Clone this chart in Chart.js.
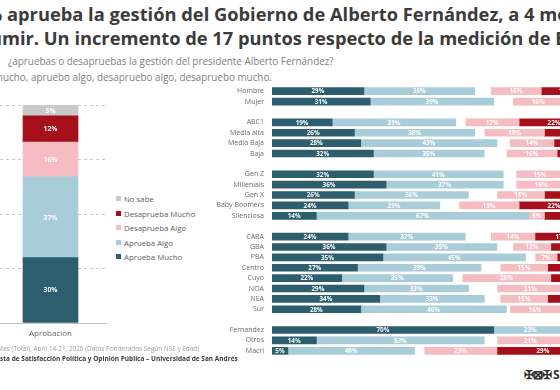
<!DOCTYPE html>
<html><head><meta charset="utf-8">
<script src="https://cdn.jsdelivr.net/npm/chart.js@4"></script>
<style>
html,body{margin:0;padding:0;width:560px;height:390px;overflow:hidden;background:#fff;font-family:"Open Sans",sans-serif;position:relative;}
.t{position:absolute;white-space:nowrap;}
.pre{position:absolute;right:100%;top:0;white-space:pre;}
.title{font-weight:700;font-size:18.3px;color:#3b3b3b;line-height:20px;}
.sub{font-size:9.9px;color:#808080;line-height:12px;}
.foot1{font-size:6.4px;color:#a0a0a0;line-height:9px;}
.foot2{font-size:6.5px;color:#3c3c3c;font-weight:700;line-height:9px;}
#legend{position:absolute;left:116px;top:193px;font-size:7.8px;color:#606060;}
#legend div{height:14.5px;line-height:12px;white-space:nowrap;}
#legend span.sw{display:inline-block;width:5px;height:5px;margin-right:3px;vertical-align:middle;position:relative;top:-1px;}
canvas{position:absolute;}
</style></head>
<body>
<div class="t title" style="left:7px;top:4px;"><span class="pre">30% </span>aprueba la gestión del Gobierno de Alberto Fernández, a 4 meses de asumir.</div>
<div class="t title" style="left:2px;top:28px;"><span class="pre">de asu</span>mir. Un incremento de 17 puntos respecto de la medición de Enero.</div>
<div class="t sub" style="left:8px;top:55px;">¿apruebas o desapruebas la gestión del presidente Alberto Fernández?</div>
<div class="t sub" style="left:3px;top:71px;"><span class="pre">Apruebo m</span>ucho, apruebo algo, desapruebo algo, desapruebo mucho.</div>

<canvas id="left" width="113" height="250" style="left:-6px;top:100px;width:113px;height:250px;"></canvas>
<div id="legend"></div>
<canvas id="right" width="370" height="270" style="left:190px;top:86px;width:370px;height:270px;"></canvas>

<div class="t foot1" style="left:1px;top:344px;"><span class="pre">Base: Participan</span>tes (Total), Abril 14-21, 2020 (Datos Ponderados Según NSE y Edad)</div>
<div class="t foot2" style="left:0px;top:354px;"><span class="pre">Encue</span>sta de Satisfacción Política y Opinión Pública – Universidad de San Andrés</div>
<div class="t" style="left:524px;top:366px;font-size:12px;font-weight:700;color:#2f2f2f;letter-spacing:-1px;">✠⊠✠ S</div>

<script>
// ---------- data ----------
const seriesNames = ['Aprueba Mucho','Aprueba Algo','No sabe','Desaprueba Algo','Desaprueba Mucho'];
const seriesColors = ['#2d5e6e','#a9cdd8','#ffffff','#f5bcc2','#a5101b'];
const leftNoSabeColor = '#c9c9c9';

const leftCategories = ['Aprobación'];
const leftApruebaMucho = [30];
const leftApruebaAlgo = [37];
const leftDesapruebaAlgo = [16];
const leftDesapruebaMucho = [12];
const leftNoSabe = [5];

const rightCategories = ['Hombre','Mujer','','ABC1','Media alta','Media Baja','Baja','','Gen Z','Millenials','Gen X','Baby Boomers','Silenciosa','','CABA','GBA','PBA','Centro','Cuyo','NOA','NEA','Sur','','Fernandez','Otros','Macri'];
const apruebaMucho    = [29,31,null,19,26,28,32,null,32,36,26,24,14,null,24,36,35,27,22,29,34,28,null,70,14,5];
const apruebaAlgo     = [35,39,null,39,38,43,35,null,41,37,36,29,67,null,37,35,45,39,35,33,33,46,null,23,53,40];
const noSabe          = [5,6,null,3,3,4,7,null,4,4,9,6,0,null,8,5,3,6,3,9,5,1,null,3,4,3];
const desapruebaAlgo  = [16,16,null,17,19,14,16,null,15,16,15,19,5,null,14,12,7,15,28,21,15,16,null,3,21,23];
const desapruebaMucho = [15,8,null,22,14,11,10,null,8,7,14,22,14,null,17,12,10,13,12,8,13,9,null,1,8,29];

const leftTicks = [0,25,50,75,100];

// ---------- label plugin ----------
const segLabels = {
  id:'segLabels',
  afterDatasetsDraw(chart, args, opts){
    const {ctx, chartArea} = chart;
    ctx.save();
    ctx.beginPath();
    ctx.rect(chartArea.left, chartArea.top, chartArea.width, chartArea.height);
    ctx.clip();
    ctx.font = 'bold ' + opts.size + 'px "Open Sans"';
    ctx.fillStyle = '#ffffff';
    ctx.textAlign = 'center';
    ctx.textBaseline = 'middle';
    chart.data.datasets.forEach((ds, di) => {
      if (ds.noLabel) return;
      const meta = chart.getDatasetMeta(di);
      meta.data.forEach((el, i) => {
        const v = ds.data[i];
        if (v == null || v < opts.min) return;
        const p = el.getProps(['x','y','base'], true);
        let cx, cy;
        if (opts.horizontal) { cx = (p.x + p.base) / 2; cy = p.y; }
        else { cx = p.x; cy = (p.y + p.base) / 2; }
        ctx.fillText(v + '%', cx, cy + 0.5);
      });
    });
    ctx.restore();
  }
};

// ---------- left chart ----------
const leftData = [leftApruebaMucho, leftApruebaAlgo, leftDesapruebaAlgo, leftDesapruebaMucho, leftNoSabe];
const leftNames = ['Aprueba Mucho','Aprueba Algo','Desaprueba Algo','Desaprueba Mucho','No sabe'];
const leftColors = [seriesColors[0], seriesColors[1], seriesColors[3], seriesColors[4], leftNoSabeColor];

new Chart(document.getElementById('left'), {
  type:'bar',
  data:{
    labels:leftCategories,
    datasets:leftData.map((d,i)=>({label:leftNames[i], data:d, backgroundColor:leftColors[i], borderWidth:0, barThickness:55}))
  },
  options:{
    responsive:false, animation:false,
    layout:{autoPadding:false, padding:{top:5,left:0,right:0,bottom:0}},
    plugins:{legend:{display:false}, tooltip:{enabled:false}, segLabels:{size:6.8, min:1, horizontal:false}},
    scales:{
      x:{stacked:true,
         grid:{display:false, drawTicks:false},
         border:{display:true, color:'#c4c4c4', width:1},
         ticks:{padding:6, color:'#666', font:{family:'Open Sans', size:8}},
         afterFit(s){ s.height = 27; s.paddingLeft = 0; s.paddingRight = 0; }},
      y:{stacked:true, min:0, max:100,
         afterBuildTicks(s){ s.ticks = leftTicks.map(v=>({value:v})); },
         grid:{display:true, color:'#c8c8c8', lineWidth:1, drawTicks:false, borderDash:[3,3]},
         border:{display:false, dash:[3,3]},
         ticks:{display:false},
         afterFit(s){ s.width = 0; s.paddingTop = 0; s.paddingBottom = 0; }}
    }
  },
  plugins:[segLabels]
});

// legend (HTML, built from series arrays)
const legendOrder = ['No sabe','Desaprueba Mucho','Desaprueba Algo','Aprueba Algo','Aprueba Mucho'];
const lg = document.getElementById('legend');
legendOrder.forEach(n=>{
  const idx = leftNames.indexOf(n);
  const row = document.createElement('div');
  row.innerHTML = '<span class="sw" style="background:'+leftColors[idx]+'"></span>'+n;
  lg.appendChild(row);
});

// ---------- right chart ----------
const rightData = [apruebaMucho, apruebaAlgo, noSabe, desapruebaAlgo, desapruebaMucho];
new Chart(document.getElementById('right'), {
  type:'bar',
  data:{
    labels:rightCategories,
    datasets:rightData.map((d,i)=>({label:seriesNames[i], data:d, backgroundColor:seriesColors[i], borderWidth:0, barThickness:7, noLabel: i===2}))
  },
  options:{
    indexAxis:'y',
    responsive:false, animation:false,
    layout:{autoPadding:false, padding:0},
    plugins:{legend:{display:false}, tooltip:{enabled:false}, segLabels:{size:6.3, min:3, horizontal:true}},
    scales:{
      x:{stacked:true, min:0, max:90.9, display:false},
      y:{stacked:true,
         grid:{display:false, drawTicks:false},
         border:{display:false},
         ticks:{autoSkip:false, padding:8, color:'#6a6a6a', font:{family:'Open Sans', size:7}},
         afterFit(s){ s.width = 82; s.paddingTop = 0; s.paddingBottom = 0; }}
    }
  },
  plugins:[segLabels]
});
</script>
</body></html>
